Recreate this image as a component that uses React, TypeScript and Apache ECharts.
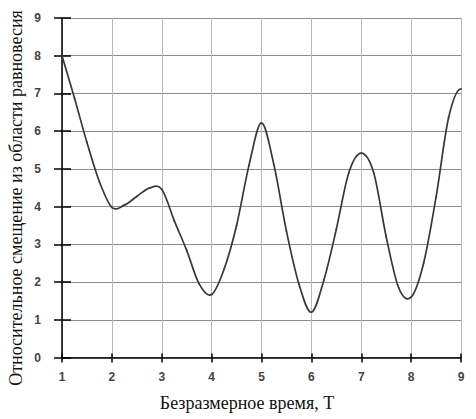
import React, { useEffect, useRef } from "react";
import * as echarts from "echarts";

const timeT = [
  1, 1.25, 1.5, 1.75, 2, 2.25, 2.5, 2.75, 3, 3.25, 3.5, 3.75, 4, 4.25, 4.5, 4.75, 5,
  5.25, 5.5, 5.75, 6, 6.25, 6.5, 6.75, 7, 7.25, 7.5, 7.75, 8, 8.25, 8.5, 8.75, 9,
];
const displacement = [
  8.0, 6.88, 5.7, 4.66, 3.98, 4.04, 4.27, 4.49, 4.46, 3.63, 2.84, 1.95, 1.67, 2.34, 3.5, 5.1, 6.22,
  5.1, 3.35, 1.95, 1.2, 2.05, 3.4, 4.9, 5.42, 4.9, 3.2, 1.85, 1.6, 2.5, 4.25, 6.35, 7.12,
];
const xTicks = [1, 9, 1];
const yTicks = [0, 9, 1];
const xTitle = "Безразмерное время, Т";
const yTitle = "Относительное смещение из области равновесия";

export default function App() {
  const ref = useRef<HTMLDivElement>(null);
  useEffect(() => {
    if (!ref.current) return;
    const chart = echarts.init(ref.current, null, { renderer: "svg" });
    const pts = timeT.map((t, i) => [t, displacement[i]]);
    const labelStyle = {
      color: "#444",
      fontFamily: "Liberation Sans, Arial, sans-serif",
      fontSize: 12,
      fontWeight: "bold" as const,
    };
    const renderItem = (params: any, api: any) => {
      const i = params.dataIndex;
      const n = pts.length;
      if (i >= n - 1) return null;
      const P1 = api.coord(pts[i]);
      const P2 = api.coord(pts[i + 1]);
      const P0 = i > 0 ? api.coord(pts[i - 1]) : [2 * P1[0] - P2[0], 2 * P1[1] - P2[1]];
      const P3 = i + 2 < n ? api.coord(pts[i + 2]) : [2 * P2[0] - P1[0], P1[1]];
      const cp1 = [P1[0] + (P2[0] - P0[0]) / 6, P1[1] + (P2[1] - P0[1]) / 6];
      const cp2 = [P2[0] - (P3[0] - P1[0]) / 6, P2[1] - (P3[1] - P1[1]) / 6];
      return {
        type: "bezierCurve",
        shape: {
          x1: P1[0], y1: P1[1], x2: P2[0], y2: P2[1],
          cpx1: cp1[0], cpy1: cp1[1], cpx2: cp2[0], cpy2: cp2[1],
        },
        style: { stroke: "#383838", lineWidth: 1.7, fill: "none", lineCap: "round" },
      };
    };
    chart.setOption({
      animation: false,
      backgroundColor: "#fff",
      grid: { left: 62, right: 15, top: 18, bottom: 61.5, containLabel: false },
      xAxis: [
        {
          type: "value",
          min: xTicks[0],
          max: xTicks[1],
          interval: xTicks[2],
          axisLine: { show: true, onZero: false, lineStyle: { color: "#000", width: 1.5 } },
          axisTick: { show: true, length: 5, lineStyle: { color: "#000", width: 1.5 } },
          axisLabel: { ...labelStyle, margin: 13 },
          splitLine: { show: true, lineStyle: { color: "#b8b8b8", width: 1 } },
        },
        {
          type: "value",
          position: "bottom",
          min: xTicks[0],
          max: xTicks[1],
          interval: xTicks[2],
          axisLine: { show: false },
          axisTick: { show: true, inside: true, length: 4, lineStyle: { color: "#000", width: 1.5 } },
          axisLabel: { show: false },
          splitLine: { show: false },
        },
      ],
      yAxis: [
        {
          type: "value",
          min: yTicks[0],
          max: yTicks[1],
          interval: yTicks[2],
          axisLine: { show: true, onZero: false, lineStyle: { color: "#000", width: 1.5 } },
          axisTick: { show: true, length: 8, lineStyle: { color: "#000", width: 1.5 } },
          axisLabel: { ...labelStyle, margin: 21 },
          splitLine: { show: true, lineStyle: { color: "#8c8c8c", width: 1 } },
        },
        {
          type: "value",
          position: "left",
          min: yTicks[0],
          max: yTicks[1],
          interval: yTicks[2],
          axisLine: { show: false },
          axisTick: { show: true, inside: true, length: 9, lineStyle: { color: "#000", width: 1.5 } },
          axisLabel: { show: false },
          splitLine: { show: false },
        },
      ],
      series: [
        {
          type: "custom",
          xAxisIndex: 0,
          yAxisIndex: 0,
          data: pts,
          encode: { x: 0, y: 1 },
          renderItem,
          silent: true,
        },
      ],
      graphic: [
        {
          type: "text",
          x: 247,
          y: 403,
          style: {
            text: xTitle,
            font: "18px 'Liberation Serif', 'Times New Roman', serif",
            fill: "#111",
            align: "center",
            verticalAlign: "middle",
          },
        },
        {
          type: "text",
          x: 16,
          y: 198,
          rotation: Math.PI / 2,
          style: {
            text: yTitle,
            font: "18px 'Liberation Serif', 'Times New Roman', serif",
            fill: "#111",
            align: "center",
            verticalAlign: "middle",
          },
        },
      ],
    });
    return () => chart.dispose();
  }, []);
  return (
    <div
      ref={ref}
      style={{ position: "fixed", left: 0, top: 0, width: 476, height: 419, background: "#fff" }}
    />
  );
}
